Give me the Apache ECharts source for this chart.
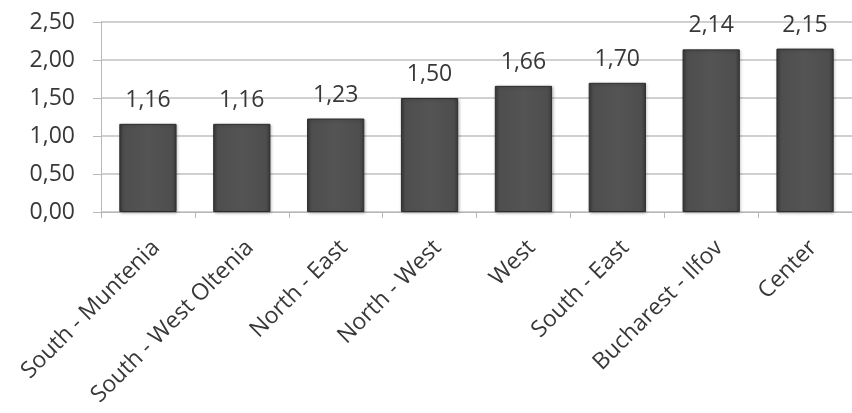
<!DOCTYPE html>
<html><head><meta charset="utf-8">
<script src="https://cdn.jsdelivr.net/npm/echarts@6/dist/echarts.min.js"></script>
<style>html,body{margin:0;padding:0;background:#fff}#c{width:852px;height:413px}</style>
</head><body><div id="c"></div>
<script>
const categories = ["South - Muntenia","South - West Oltenia","North - East","North - West","West","South - East","Bucharest - Ilfov","Center"];
const values = [1.16,1.16,1.23,1.50,1.66,1.70,2.14,2.15];
const yTicks = [0,0.5,1,1.5,2,2.5];
const fmt = v => v.toFixed(2).replace('.', ',');
const FONT = '"Open Sans", sans-serif';
const chart = echarts.init(document.getElementById('c'), null, {renderer:'canvas'});
chart.setOption({
  animation:false,
  grid:{left:101, right:-9, top:22, bottom:201, containLabel:false},
  xAxis:{type:'category', data:categories,
    axisLine:{lineStyle:{color:'#b8b8b8', width:1}},
    axisTick:{show:true, length:6, lineStyle:{color:'#b8b8b8'}},
    axisLabel:{rotate:45, interval:0, margin:24, verticalAlign:'top', color:'#383838', fontFamily:FONT, fontSize:23}},
  yAxis:{type:'value', min:yTicks[0], max:yTicks[yTicks.length-1], interval:0.5,
    axisLine:{show:true, lineStyle:{color:'#b8b8b8'}},
    axisTick:{show:true, length:8, lineStyle:{color:'#b8b8b8'}},
    splitLine:{show:true, lineStyle:{color:'#c0c0c0', width:1.5}},
    axisLabel:{margin:26, color:'#383838', fontFamily:FONT, fontSize:23, formatter:v=>fmt(v)}},
  series:[{type:'bar', data:values, barWidth:'61%',
    itemStyle:{
      color:{type:'linear', x:0,y:0,x2:1,y2:0, colorStops:[
        {offset:0,color:'#3a3a3a'},{offset:0.08,color:'#4e4e4e'},{offset:0.5,color:'#545454'},{offset:0.92,color:'#4e4e4e'},{offset:1,color:'#3a3a3a'}]},
      borderColor:'#2e2e2e', borderWidth:1,
      shadowColor:'rgba(0,0,0,0.25)', shadowBlur:3, shadowOffsetX:1, shadowOffsetY:1},
    label:{show:true, position:'top', distance:12, color:'#383838', fontFamily:FONT, fontSize:23, formatter:p=>fmt(p.value)}
  }]
});
</script></body></html>
